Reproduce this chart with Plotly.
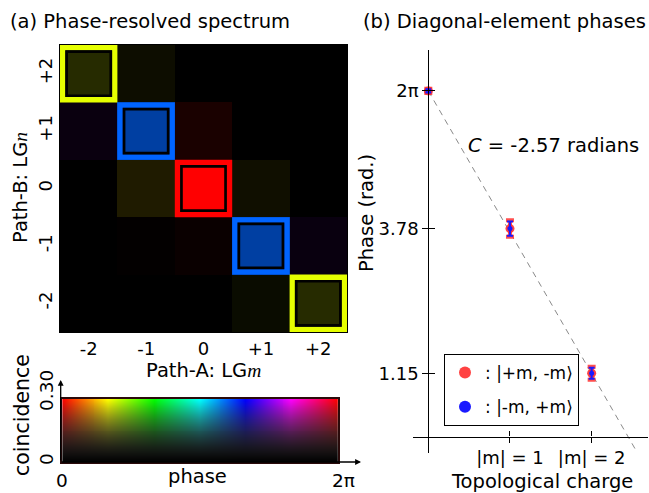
import colorsys
import numpy as np
import plotly.graph_objects as go

W, H = 649, 493
FONT = "DejaVu Sans"

# ---------------- (a) phase-resolved spectrum ----------------
m_values = [-2, -1, 0, 1, 2]
m_labels = ["-2", "-1", "0", "+1", "+2"]
n_labels = ["+2", "+1", "0", "-1", "-2"]          # rows, top to bottom

# coincidence (rows n = +2 ... -2, columns m = -2 ... +2)
coincidence = [
    [0.050, 0.015, 0.000, 0.000, 0.000],
    [0.018, 0.190, 0.030, 0.000, 0.000],
    [0.000, 0.036, 0.300, 0.019, 0.000],
    [0.000, 0.003, 0.012, 0.190, 0.018],
    [0.000, 0.000, 0.000, 0.014, 0.050],
]
# phase in radians
phase = [
    [1.15, 1.05, 0.00, 0.00, 0.00],
    [4.90, 3.78, 0.05, 0.00, 0.00],
    [0.00, 0.91, 6.28, 0.98, 0.00],
    [0.00, 0.00, 0.05, 3.78, 4.80],
    [0.00, 0.00, 0.00, 1.22, 1.15],
]
CB_MAX = 0.30

# ---------------- (b) diagonal-element phases ----------------
charge = [0, 1, 2]
charge_labels = ["|m| = 1", "|m| = 2"]
phase_pm = [2 * np.pi, 3.78, 1.15]     # |+m, -m>
err_pm = [0.04, 0.15, 0.12]
phase_mp = [2 * np.pi, 3.78, 1.15]     # |-m, +m>
err_mp = [0.03, 0.13, 0.10]
phase_ticks = [2 * np.pi, 3.78, 1.15]
phase_tick_labels = ["2π", "3.78", "1.15"]
C = -2.57
fit_x = [0.0, 2.56]


def px_x(x):
    return x / W


def px_y(y):
    return 1 - y / H


def hsv_rgb(ph, v, s=1.0):
    r, g, b = colorsys.hsv_to_rgb((ph / (2 * np.pi)) % 1.0, s, min(max(v, 0.0), 1.0))
    return [int(round(255 * c)) for c in (r, g, b)]


# spectrum pixels: hue = phase, brightness = coincidence
cells = [[hsv_rgb(p, c / CB_MAX) for p, c in zip(prow, crow)]
         for prow, crow in zip(phase, coincidence)]

# colour key: hue across, coincidence up (fading to a muted dark towards zero)
cb_w, cb_h = 280, 64
cb_phase = np.linspace(0, 2 * np.pi, cb_w)
cb_level = np.linspace(CB_MAX, 0, cb_h)
cb_img = []
for lev in cb_level:
    t = lev / CB_MAX
    sat = t ** 1.2
    bright = t ** 0.8
    row = []
    for ph in cb_phase:
        pure = np.array(colorsys.hsv_to_rgb((ph / (2 * np.pi)) % 1.0, 1, 1))
        rgb = bright * (sat * pure + (1 - sat) * 0.34)
        row.append([int(round(255 * c)) for c in rgb])
    cb_img.append(row)

fig = go.Figure()

fig.add_trace(go.Image(z=cells, x0=m_values[0], dx=1, y0=0, dy=1,
                       xaxis="x", yaxis="y", hoverinfo="skip"))
fig.add_trace(go.Image(z=cb_img, x0=0, dx=1, y0=0, dy=1,
                       xaxis="x3", yaxis="y3", hoverinfo="skip"))

# fitted line
fit_y = [2 * np.pi + C * x for x in fit_x]
fig.add_trace(go.Scatter(x=fit_x, y=fit_y, mode="lines", xaxis="x2", yaxis="y2",
                         line=dict(color="#8a8a8a", width=1, dash="6px,5px"),
                         showlegend=False, hoverinfo="skip"))
fig.add_trace(go.Scatter(
    x=charge, y=phase_pm, mode="markers", xaxis="x2", yaxis="y2",
    name=": |+m, -m⟩", legendgroup="pm",
    marker=dict(color="rgba(255,45,45,0.9)", size=9),
    error_y=dict(type="data", array=err_pm, color="rgba(255,60,60,0.9)",
                 thickness=4, width=4)))
fig.add_trace(go.Scatter(
    x=charge, y=phase_mp, mode="markers", xaxis="x2", yaxis="y2",
    name=": |-m, +m⟩", legendgroup="mp",
    marker=dict(color="#1a1aff", size=5),
    error_y=dict(type="data", array=err_mp, color="#1a1aff",
                 thickness=2, width=3)))

# frames around the diagonal cells
shapes = []
cell_px = 287 / 5
ow = 2.65 / cell_px
iw = 6.65 / cell_px
for i, m in enumerate(m_values):
    col = "rgb(%d,%d,%d)" % tuple(hsv_rgb(phase[i][i], 1.0))
    shapes.append(dict(type="rect", xref="x", yref="y",
                       x0=m - 0.5 + ow, x1=m + 0.5 - ow, y0=i - 0.5 + ow, y1=i + 0.5 - ow,
                       line=dict(color=col, width=5.3)))
    shapes.append(dict(type="rect", xref="x", yref="y",
                       x0=m - 0.5 + iw, x1=m + 0.5 - iw, y0=i - 0.5 + iw, y1=i + 0.5 - iw,
                       line=dict(color="black", width=2.7)))

tick_font = dict(family=FONT, size=18, color="black")

fig.update_layout(
    width=W, height=H, margin=dict(l=0, r=0, t=0, b=0),
    paper_bgcolor="white", plot_bgcolor="white",
    font=dict(family=FONT, color="black"),
    shapes=shapes,
    xaxis=dict(domain=[px_x(60), px_x(347)], range=[-2.5, 2.5],
               tickvals=m_values, ticktext=m_labels, tickfont=tick_font,
               showline=True, linecolor="black", mirror=True, ticks="",
               showgrid=False, zeroline=False),
    yaxis=dict(domain=[px_y(332), px_y(45)], range=[4.5, -0.5],
               tickvals=list(range(len(n_labels))), ticktext=n_labels,
               tickangle=-90, tickfont=tick_font,
               showline=True, linecolor="black", mirror=True, ticks="",
               showgrid=False, zeroline=False),
    xaxis3=dict(domain=[px_x(60), px_x(340)], range=[-0.5, cb_w - 0.5], anchor="y3",
                visible=True, showticklabels=False, ticks="", showgrid=False,
                zeroline=False, showline=True, mirror=True, linecolor="#2a0a0a",
                linewidth=1.5),
    yaxis3=dict(domain=[px_y(462), px_y(399)], range=[cb_h - 0.5, -0.5], anchor="x3",
                showticklabels=False, ticks="", showgrid=False, zeroline=False,
                showline=True, mirror=True, linecolor="#2a0a0a", linewidth=1.5),
    xaxis2=dict(domain=[px_x(413), px_x(648)], range=[-0.1875, 2.69],
                anchor="free", position=px_y(436.5),
                tickvals=charge[1:], ticktext=charge_labels, tickfont=tick_font,
                ticks="outside", ticklen=5, tickcolor="black",
                minor=dict(ticks="inside", tickmode="array", tickvals=charge[1:],
                           ticklen=5, tickcolor="black"),
                showline=True, linecolor="black", linewidth=1.2,
                showgrid=False, zeroline=False),
    yaxis2=dict(domain=[px_y(453), px_y(50)], range=[-0.30, 7.027],
                anchor="free", position=px_x(428.3),
                tickvals=phase_ticks, ticktext=phase_tick_labels, tickfont=tick_font,
                ticks="outside", ticklen=6, tickcolor="black",
                minor=dict(ticks="inside", tickmode="array", tickvals=phase_ticks,
                           ticklen=6, tickcolor="black"),
                showline=True, linecolor="black", linewidth=1.2,
                showgrid=False, zeroline=False),
    legend=dict(x=px_x(444), y=px_y(354), xanchor="left", yanchor="top",
                bordercolor="black", borderwidth=1, bgcolor="white",
                font=dict(family=FONT, size=17), tracegroupgap=9,
                itemsizing="constant", itemwidth=30),
    showlegend=True,
)

serif_m = "<span style=\"font-family:'Liberation Serif'\"><i>m</i></span>"
serif_n = "<span style=\"font-family:'Liberation Serif'\"><i>n</i></span>"

labels = [
    ("(a) Phase-resolved spectrum", 8, 21, 19.5, 0, "left"),
    ("(b) Diagonal-element phases", 361, 21, 19.5, 0, "left"),
    ("Path-A: LG" + serif_m, 203, 370, 19.5, 0, "center"),
    ("Path-B: LG" + serif_n, 21, 188, 19.5, -90, "center"),
    ("coincidence", 22, 415, 20.5, -90, "center"),
    ("0.30", 46, 391, 18.5, -90, "center"),
    ("0", 46, 459, 18.5, -90, "center"),
    ("0", 62, 480, 18.5, 0, "center"),
    ("phase", 197, 476, 19.5, 0, "center"),
    ("2π", 343, 480, 18.5, 0, "center"),
    ("Phase (rad.)", 366, 213, 19.5, -90, "center"),
    ("Topological charge", 542, 481, 19.5, 0, "center"),
    ("<i>C</i> = %.2f radians" % C, 553, 145, 19.5, 0, "center"),
]
annotations = []
for text, x, y, size, angle, align in labels:
    annotations.append(dict(text=text, x=px_x(x), y=px_y(y), xref="paper", yref="paper",
                            xanchor=align, yanchor="middle", showarrow=False,
                            textangle=angle, font=dict(family=FONT, size=size, color="black")))

# arrowed axes of the colour key
annotations.append(dict(x=px_x(60.7), y=px_y(380), xref="paper", yref="paper", text="",
                        showarrow=True, ax=0, ay=82, arrowhead=2, arrowsize=0.9,
                        arrowwidth=1.3, arrowcolor="black", standoff=0))
annotations.append(dict(x=px_x(361), y=px_y(462), xref="paper", yref="paper", text="",
                        showarrow=True, ax=-301, ay=0, arrowhead=2, arrowsize=0.9,
                        arrowwidth=1.3, arrowcolor="black", standoff=0))
fig.update_layout(annotations=annotations)

fig.write_html("out.html")
